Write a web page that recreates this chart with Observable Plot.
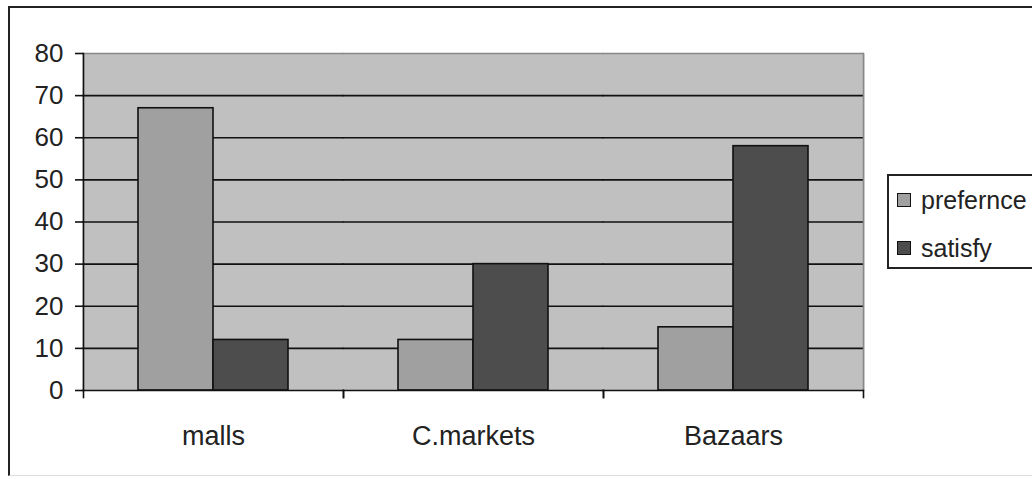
<!DOCTYPE html>
<html>
<head>
<meta charset="utf-8">
<script src="https://cdn.jsdelivr.net/npm/d3@7"></script>
<script src="https://cdn.jsdelivr.net/npm/@observablehq/plot@0.6"></script>
<style>
  html, body { margin: 0; padding: 0; background: #fff; overflow: hidden; }
  #wrap { position: relative; width: 1032px; height: 479px; }
  #outer { position: absolute; left: 8px; top: 6px; width: 1040px; height: 470px;
           border-left: 2px solid #222; border-top: 2px solid #222; border-bottom: 1px solid #ddd; box-sizing: border-box; }
  #chart { position: absolute; left: 0; top: 0; }
  #legend { position: absolute; left: 887px; top: 174px; width: 160px; height: 95px;
            border: 2px solid #222; box-sizing: border-box; background: #fff;
            font-family: "Liberation Sans", Arial, sans-serif; font-size: 25px; color: #222; }
  .item { position: absolute; left: 8px; display: flex; align-items: center; line-height: 28px; }
  .sw { width: 12px; height: 12px; border: 1.5px solid #111; margin-right: 10px; }
</style>
</head>
<body>
<div id="wrap">
  <div id="outer"></div>
  <div id="chart"></div>
  <div id="legend"></div>
</div>
<script>
const categories = ["malls", "C.markets", "Bazaars"];
const seriesNames = ["prefernce", "satisfy"];
const preference = [67, 12, 15];
const satisfy = [12, 30, 58];
const yTicks = [0, 10, 20, 30, 40, 50, 60, 70, 80];
const seriesColors = ["#a0a0a0", "#4d4d4d"];

const data = [];
categories.forEach((c, i) => {
  data.push({category: c, series: seriesNames[0], value: preference[i]});
  data.push({category: c, series: seriesNames[1], value: satisfy[i]});
});

const W = 1032, H = 479, mL = 82, mT = 53, mR = 168, mB = 89;
const plotH = H - mT - mB;
const font = '"Liberation Sans", Arial, sans-serif';

const chart = Plot.plot({
  width: W, height: H,
  marginLeft: mL, marginTop: mT, marginRight: mR, marginBottom: mB,
  style: {background: "transparent", fontFamily: font, fontSize: "26px", color: "#222"},
  fx: {domain: categories, padding: 0, label: null},
  x: {domain: seriesNames, paddingInner: 0, paddingOuter: 0.726, axis: null},
  y: {domain: [0, 80], label: null},
  color: {domain: seriesNames, range: seriesColors},
  marks: [
    Plot.frame({fill: "#c0c0c0", stroke: null, insetLeft: -1, insetRight: -1}),
    Plot.ruleY(yTicks.filter(v => v > 0 && v < 80), {stroke: "#111", strokeWidth: 1.6, insetLeft: -0.5, insetRight: -0.5}),
    Plot.ruleY([80], {stroke: "#888", strokeWidth: 1.5, insetLeft: -0.5, insetRight: -0.5}),
    Plot.frame({anchor: "right", facetAnchor: "right", stroke: "#888", strokeWidth: 1.5}),
    Plot.barY(data, {fx: "category", x: "series", y: "value", fill: "series", stroke: "#111", strokeWidth: 1.6}),
    Plot.ruleY([0], {stroke: "#111", strokeWidth: 1.6, insetLeft: -0.5, insetRight: -0.5}),
    Plot.frame({anchor: "left", facetAnchor: "left", stroke: "#111", strokeWidth: 1.6}),
    Plot.frame({anchor: "left", stroke: "#111", strokeWidth: 1.6, insetTop: plotH, insetBottom: -7}),
    Plot.frame({anchor: "right", stroke: "#111", strokeWidth: 1.6, insetTop: plotH, insetBottom: -7}),
    Plot.axisY({ticks: yTicks, tickSize: 8, tickPadding: 12, stroke: "#111", strokeWidth: 1.6,
                fontSize: 26, fill: "#222", label: null}),
    Plot.axisFx({anchor: "bottom", tickSize: 0, tickPadding: 35, fontSize: 27, fill: "#222", label: null})
  ]
});
document.getElementById("chart").appendChild(chart);

const legend = document.getElementById("legend");
seriesNames.forEach((s, i) => {
  const it = document.createElement("div");
  it.className = "item";
  it.style.top = (i === 0 ? 10 : 58) + "px";
  const sw = document.createElement("div");
  sw.className = "sw";
  sw.style.background = seriesColors[i];
  const t = document.createElement("span");
  t.textContent = s;
  it.appendChild(sw); it.appendChild(t);
  legend.appendChild(it);
});
</script>
</body>
</html>
